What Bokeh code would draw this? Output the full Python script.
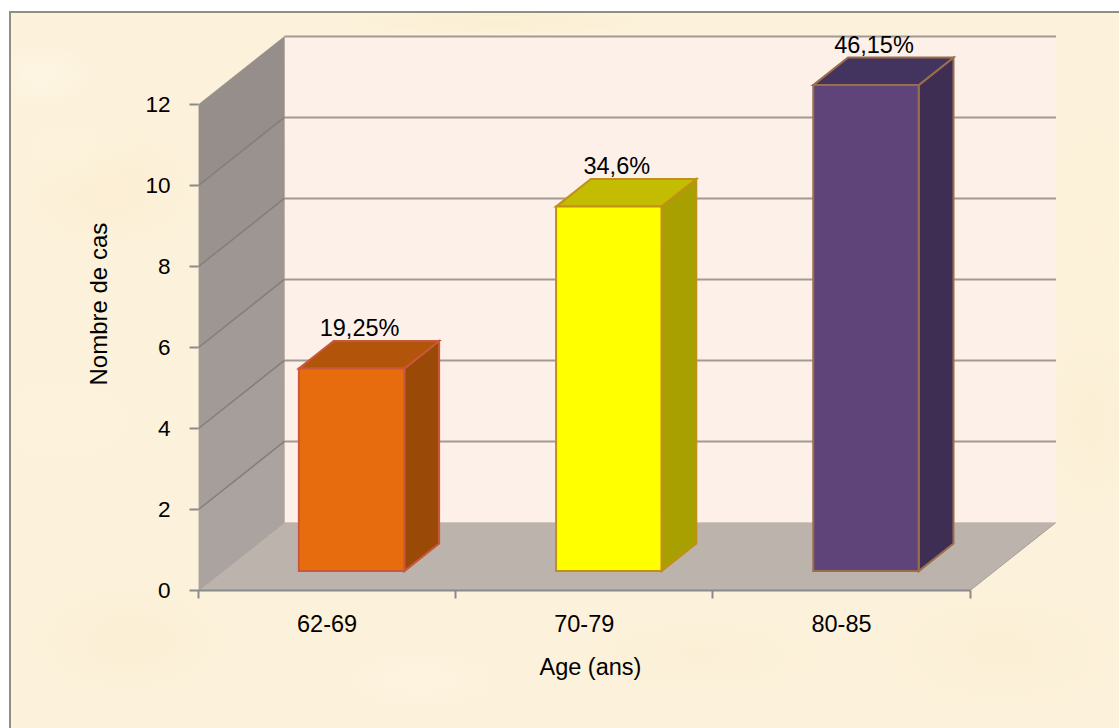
from bokeh.embed import file_html
from bokeh.models import FixedTicker, Range1d, Title
from bokeh.plotting import figure
from bokeh.resources import INLINE
from bokeh.core.properties import value

# Chart data
categories = ["62-69", "70-79", "80-85"]
cases = [5, 9, 12]
percent_labels = ["19,25%", "34,6%", "46,15%"]
y_ticks = [0, 2, 4, 6, 8, 10, 12]

# Oblique projection of the third dimension, in axis units
DEPTH_X = 0.334
DEPTH_Y = 1.68
BAR_WIDTH = 0.41
BAR_FRONT = 0.285
BAR_DEPTH = 0.405

FONT = "Liberation Sans"

front_colors = ["#E66C0E", "#FFFF00", "#5E4478"]
top_colors = ["#B25409", "#C4BC00", "#43345F"]
side_colors = ["#9A4A06", "#A8A000", "#3F2E54"]
edge_colors = ["#C8583C", "#C0901A", "#9A6E4C"]
wall_shades = ["#ABA39F", "#A69E9A", "#A29A96", "#9E9692", "#9A928E", "#968E8A"]

paper = ", ".join([
    "linear-gradient(#fff,#fff) 0 0/100% 11px no-repeat",
    "linear-gradient(#fff,#fff) 0 0/9px 100% no-repeat",
    "linear-gradient(#8F8F86,#8F8F86) 9px 11px/100% 2px no-repeat",
    "linear-gradient(#8F8F86,#8F8F86) 9px 11px/2px 100% no-repeat",
    "radial-gradient(ellipse 70px 40px at 40px 75px, rgba(255,250,240,.4), transparent)",
    "radial-gradient(ellipse 90px 60px at 110px 190px, rgba(250,232,195,.3), transparent)",
    "radial-gradient(ellipse 80px 50px at 70px 150px, rgba(255,248,228,.35), transparent)",
    "radial-gradient(ellipse 120px 70px at 60px 420px, rgba(255,246,226,.4), transparent)",
    "radial-gradient(ellipse 100px 60px at 130px 640px, rgba(249,233,200,.3), transparent)",
    "radial-gradient(ellipse 130px 50px at 420px 680px, rgba(255,247,230,.4), transparent)",
    "radial-gradient(ellipse 120px 40px at 700px 655px, rgba(250,235,205,.3), transparent)",
    "radial-gradient(ellipse 120px 60px at 1000px 650px, rgba(250,234,202,.3), transparent)",
    "radial-gradient(ellipse 50px 120px at 1090px 240px, rgba(255,243,215,.35), transparent)",
    "radial-gradient(ellipse 50px 90px at 1090px 420px, rgba(250,234,200,.3), transparent)",
    "radial-gradient(ellipse 160px 14px at 500px 22px, rgba(250,234,198,.4), transparent)",
    "#FCF1DA",
])

p = figure(
    width=1119, height=728,
    output_backend="svg", toolbar_location=None,
    x_range=Range1d(0, 862 / 257.2), y_range=Range1d(0, 557 / 40.5),
    min_border_left=198, min_border_right=59, min_border_top=33, min_border_bottom=138,
    outline_line_color=None,
    background_fill_alpha=0, border_fill_alpha=0,
)
p.styles = {"background": paper}
p.grid.visible = False

# Floor and back wall
n_cat = len(categories)
top = y_ticks[-1]
p.patch([0, n_cat, n_cat + DEPTH_X, DEPTH_X], [0, 0, DEPTH_Y, DEPTH_Y],
        fill_color="#BDB3AD", line_color="#A89F98", line_width=1)
p.patch([DEPTH_X, n_cat + DEPTH_X, n_cat + DEPTH_X, DEPTH_X],
        [DEPTH_Y, DEPTH_Y, top + DEPTH_Y, top + DEPTH_Y],
        fill_color="#FDF0E8", line_color=None)

# Left wall, one band per tick interval, darkening towards the top
for low, high, shade in zip(y_ticks[:-1], y_ticks[1:], wall_shades):
    p.patch([0, DEPTH_X, DEPTH_X, 0], [low, low + DEPTH_Y, high + DEPTH_Y, high],
            fill_color=shade, line_color=shade, line_width=0.5)

# Gridlines across the back wall and along the side wall
for tick in y_ticks[1:]:
    p.line([DEPTH_X, n_cat + DEPTH_X], [tick + DEPTH_Y] * 2, line_color="#A39A94", line_width=2)
for tick in y_ticks[1:-1]:
    p.line([0, DEPTH_X], [tick, tick + DEPTH_Y], line_color="#857D78", line_width=1.5)

# Bars: side, top, then front face
for i, v in enumerate(cases):
    x0 = i + 0.5 - BAR_WIDTH / 2 + BAR_FRONT * DEPTH_X
    x1 = x0 + BAR_WIDTH
    y0 = BAR_FRONT * DEPTH_Y
    y1 = y0 + v
    dx = BAR_DEPTH * DEPTH_X
    dy = BAR_DEPTH * DEPTH_Y
    style = dict(line_color=edge_colors[i], line_width=2, line_join="miter")
    p.patch([x1, x1 + dx, x1 + dx, x1], [y0, y0 + dy, y1 + dy, y1], fill_color=side_colors[i], **style)
    p.patch([x0, x1, x1 + dx, x0 + dx], [y1, y1, y1 + dy, y1 + dy], fill_color=top_colors[i], **style)
    p.patch([x0, x1, x1, x0], [y0, y0, y1, y1], fill_color=front_colors[i], **style)
    p.text([x0 + BAR_WIDTH / 2], [y1 + dy], text=[percent_labels[i]], x_offset=8,
           text_align="center", text_baseline="bottom", text_color="#000000",
           text_font=value(FONT), text_font_size="23.5px")

# Axes
xaxis = p.xaxis[0]
xaxis.ticker = FixedTicker(ticks=[i + 0.5 for i in range(n_cat)], minor_ticks=list(range(n_cat + 1)))
xaxis.major_label_overrides = {i + 0.5: c for i, c in enumerate(categories)}
xaxis.bounds = (0, n_cat)
xaxis.major_tick_line_color = None
xaxis.minor_tick_line_color = "#8A8A8A"
xaxis.minor_tick_line_width = 2
xaxis.minor_tick_out = 8
xaxis.minor_tick_in = 0
xaxis.axis_line_color = "#8A8A8A"
xaxis.axis_line_width = 2
xaxis.major_label_standoff = 16
xaxis.major_label_text_font_size = "23.5px"

yaxis = p.yaxis[0]
yaxis.ticker = FixedTicker(ticks=y_ticks)
yaxis.bounds = (0, top)
yaxis.axis_line_color = None
yaxis.major_tick_line_color = "#8A8A8A"
yaxis.major_tick_line_width = 2
yaxis.major_tick_out = 9
yaxis.major_tick_in = 0
yaxis.minor_tick_line_color = None
yaxis.major_label_standoff = 19
yaxis.major_label_text_font_size = "22.5px"

for axis in (xaxis, yaxis):
    axis.major_label_text_font = FONT
    axis.major_label_text_color = "#000000"

# Axis titles sit off-centre of the plot area, hence left alignment with an offset
title_style = dict(align="left", text_font=FONT, text_font_style="normal", text_color="#000000",
                   background_fill_color=None, border_line_color=None)
p.add_layout(Title(text="Age (ans)", offset=341, standoff=34, text_font_size="23.5px", **title_style), "below")
p.add_layout(Title(text="Nombre de cas", offset=205, standoff=62, text_font_size="24px", **title_style), "left")

open("out.html", "w").write(file_html(p, INLINE))
